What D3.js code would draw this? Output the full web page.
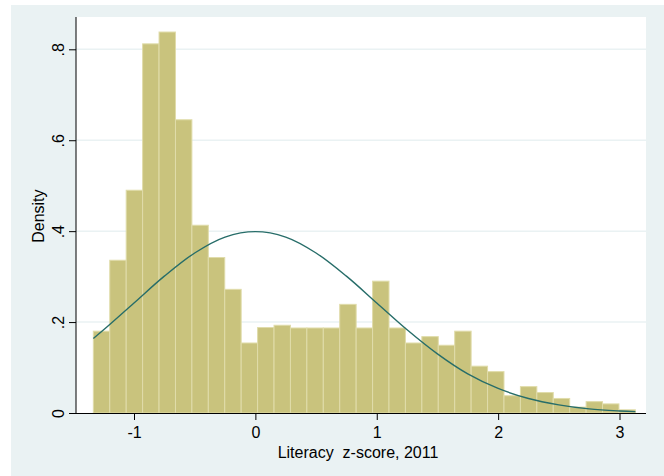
<!DOCTYPE html>
<html>
<head>
<meta charset="utf-8">
<script src="https://cdn.jsdelivr.net/npm/d3@7"></script>
<style>
  html, body { margin: 0; padding: 0; background: #ffffff; }
  svg { display: block; font-family: "Liberation Sans", Arial, Helvetica, sans-serif; }
</style>
</head>
<body>
<svg id="chart" width="664" height="476"></svg>
<script>
// ---- data ----
const binStart = -1.335;
const binWidth = 0.13533;
const densities = [0.180, 0.336, 0.490, 0.812, 0.838, 0.645, 0.413, 0.342, 0.272, 0.154,
                   0.188, 0.193, 0.187, 0.187, 0.187, 0.239, 0.187, 0.290, 0.187, 0.154,
                   0.168, 0.149, 0.180, 0.103, 0.091, 0.038, 0.058, 0.045, 0.032, 0.013,
                   0.025, 0.020, 0.007];
const curveX = [-1.335, -1.25, -1.0, -0.75, -0.5, -0.25, 0, 0.25, 0.5, 0.75, 1.0,
                1.25, 1.5, 1.75, 2.0, 2.25, 2.5, 2.75, 3.0, 3.131];
const curveY = [0.164, 0.183, 0.242, 0.301, 0.352, 0.387, 0.399, 0.387, 0.352, 0.301, 0.242,
                0.183, 0.130, 0.086, 0.054, 0.032, 0.018, 0.009, 0.0044, 0.003];
const xTicks = [-1, 0, 1, 2, 3];
const xTickLabels = ["-1", "0", "1", "2", "3"];
const yTicks = [0, 0.2, 0.4, 0.6, 0.8];
const yTickLabels = ["0", ".2", ".4", ".6", ".8"];
const xTitle = "Literacy  z-score, 2011";
const yTitle = "Density";

// ---- layout ----
const svg = d3.select("#chart");
const plot = { left: 76, right: 646, top: 17, bottom: 413 };
const x = d3.scaleLinear().domain([-1, 3]).range([134, 619.5]);
const y = d3.scaleLinear().domain([0, 0.8]).range([413, 49.3]);

// backgrounds
svg.append("rect").attr("x", 11).attr("y", 5).attr("width", 664 - 11).attr("height", 476 - 5)
  .attr("fill", "#eaf2f3");
svg.append("rect").attr("x", plot.left).attr("y", plot.top)
  .attr("width", plot.right - plot.left).attr("height", plot.bottom - plot.top)
  .attr("fill", "#ffffff");

// grid
svg.append("g").selectAll("line").data(yTicks.filter(d => d > 0)).join("line")
  .attr("x1", plot.left).attr("x2", plot.right)
  .attr("y1", d => y(d)).attr("y2", d => y(d))
  .attr("stroke", "#eaf2f3").attr("stroke-width", 1.5);

// bars
svg.append("g").selectAll("rect").data(densities).join("rect")
  .attr("x", (d, i) => x(binStart + i * binWidth))
  .attr("width", (d, i) => x(binStart + (i + 1) * binWidth) - x(binStart + i * binWidth))
  .attr("y", d => y(d))
  .attr("height", d => y(0) - y(d))
  .attr("fill", "#c9c37d")
  .attr("stroke", "#e0dcaa")
  .attr("stroke-width", 1);

// normal curve
const line = d3.line().x((d, i) => x(curveX[i])).y(d => y(d)).curve(d3.curveCatmullRom);
svg.append("path").datum(curveY).attr("d", line)
  .attr("fill", "none").attr("stroke", "#276d69").attr("stroke-width", 1.4);

// axes lines
svg.append("line").attr("x1", plot.left).attr("x2", plot.left)
  .attr("y1", plot.top).attr("y2", plot.bottom).attr("stroke", "#000").attr("stroke-width", 1);
svg.append("line").attr("x1", plot.left).attr("x2", plot.right)
  .attr("y1", plot.bottom + 0.5).attr("y2", plot.bottom + 0.5).attr("stroke", "#000").attr("stroke-width", 1);

// y axis
const yAxis = d3.axisLeft(y).tickValues(yTicks).tickSize(7).tickSizeOuter(0)
  .tickFormat((d, i) => yTickLabels[i]);
const gy = svg.append("g").attr("transform", `translate(${plot.left},0)`).call(yAxis);
gy.select(".domain").remove();
gy.selectAll(".tick line").attr("stroke", "#000");
gy.selectAll(".tick text")
  .attr("transform", "rotate(-90)")
  .attr("x", 0).attr("y", -12).attr("dy", 0)
  .attr("text-anchor", "middle")
  .attr("font-size", 16).attr("fill", "#000")
  .attr("font-family", "Liberation Sans, Arial, sans-serif");

// x axis
const xAxis = d3.axisBottom(x).tickValues(xTicks).tickSize(7).tickSizeOuter(0)
  .tickFormat((d, i) => xTickLabels[i]);
const gx = svg.append("g").attr("transform", `translate(0,${plot.bottom})`).call(xAxis);
gx.select(".domain").remove();
gx.selectAll(".tick line").attr("stroke", "#000");
gx.selectAll(".tick text")
  .attr("y", 25).attr("dy", 0)
  .attr("font-size", 16).attr("fill", "#000")
  .attr("font-family", "Liberation Sans, Arial, sans-serif");

// titles
svg.append("text").attr("x", (plot.left + plot.right) / 2 - 3).attr("y", 458)
  .attr("text-anchor", "middle").attr("font-size", 16).attr("fill", "#000")
  .attr("xml:space", "preserve").style("white-space", "pre")
  .text(xTitle);
svg.append("text").attr("transform", `translate(44,${y(0.4) - 15}) rotate(-90)`)
  .attr("text-anchor", "middle").attr("font-size", 16).attr("fill", "#000")
  .text(yTitle);
</script>
</body>
</html>
